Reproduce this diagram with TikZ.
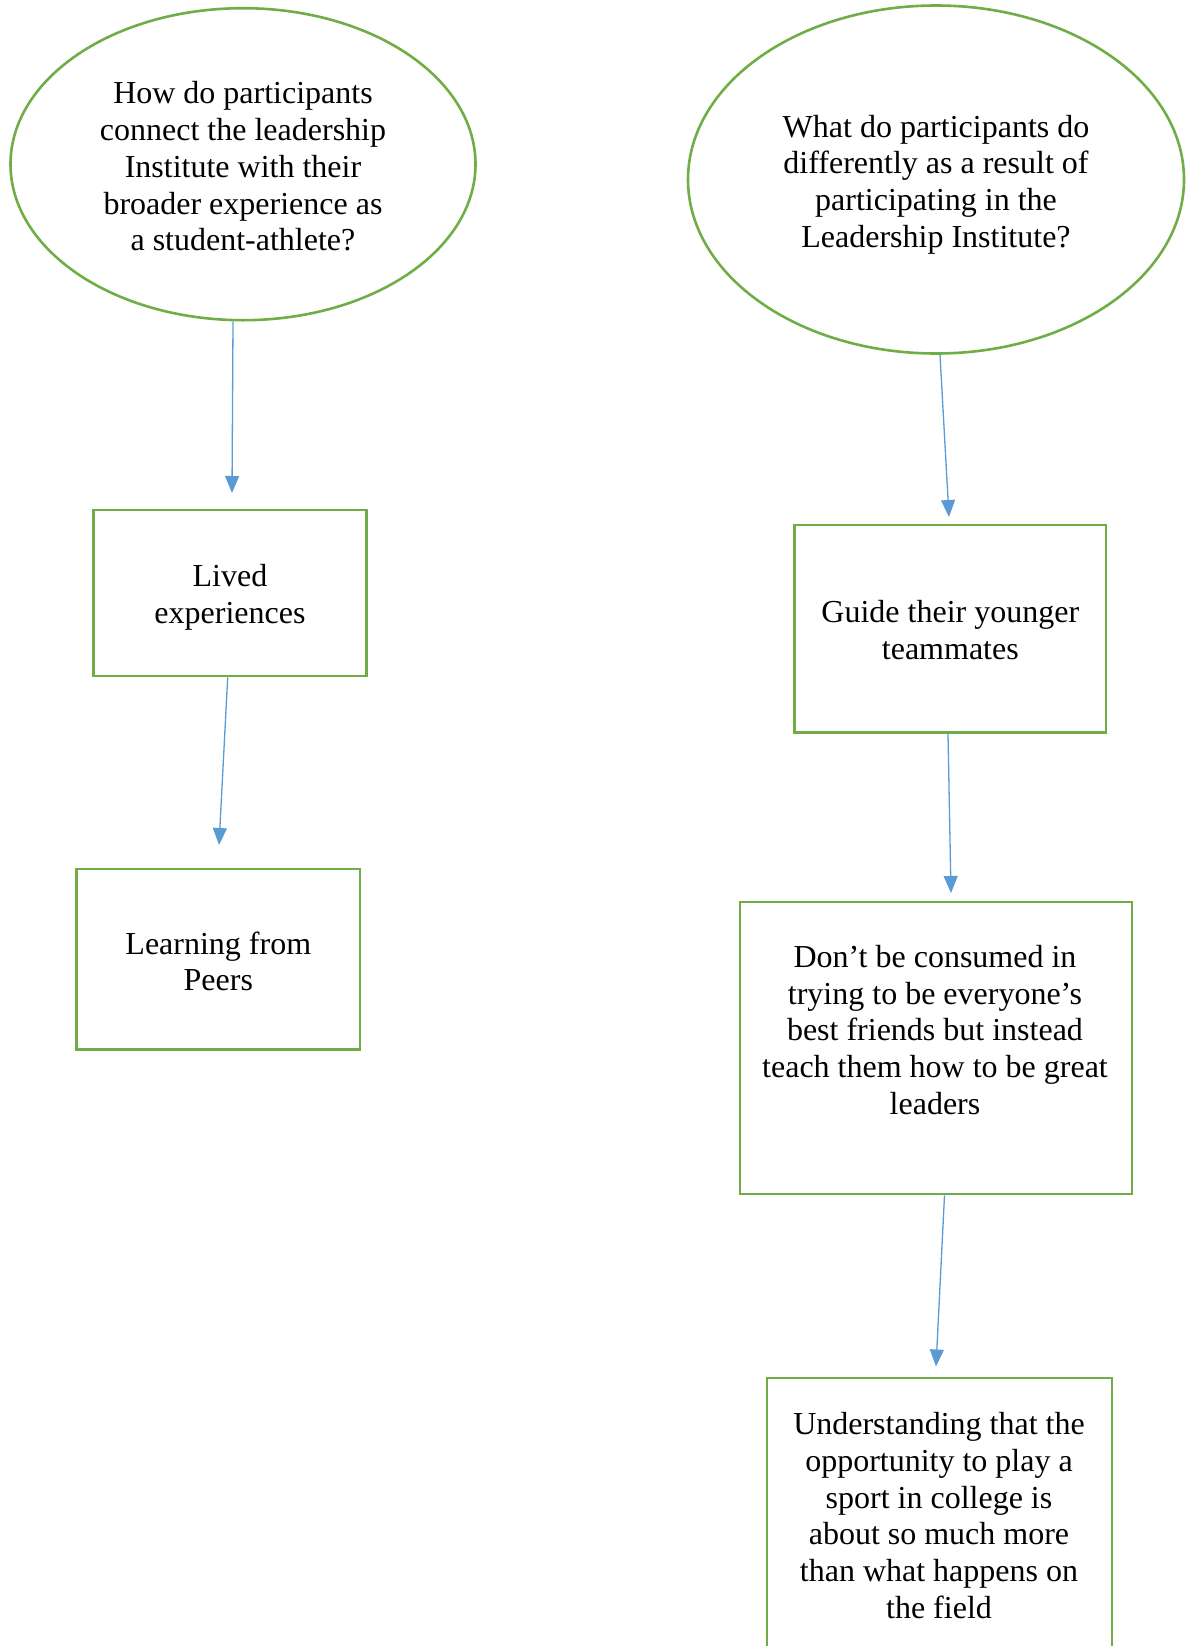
\documentclass[tikz,border=0pt]{standalone}
\usepackage{fontspec}
\setmainfont{Liberation Serif}
\usetikzlibrary{shapes.geometric,arrows.meta}
\definecolor{boxgreen}{HTML}{70AD47}
\definecolor{arrblue}{HTML}{5B9BD5}
\tikzset{
  txt/.style={font=\fontsize{32}{36.8}\selectfont, align=center, inner sep=0pt},
  oval/.style={draw=boxgreen, line width=2.6pt, ellipse, inner sep=0pt},
  box/.style={draw=boxgreen, line width=2.6pt, rectangle, inner sep=0pt},
  arr/.style={draw=arrblue, line width=1.3pt, -{Triangle[length=17pt,width=14pt]}}
}
\begin{document}
\begin{tikzpicture}[x=1pt,y=-1pt]
\useasboundingbox (0,0) rectangle (1187,1646);
\clip (0,0) rectangle (1187,1646);

\node[oval, minimum width=465pt, minimum height=312pt] (q1) at (243,164.2) {};
\node[txt] (q1text) at (243,166.5)
  {How do participants\\connect the leadership\\Institute with their\\broader experience as\\a student-athlete?};
\node[oval, minimum width=496pt, minimum height=348pt] (q2) at (936,179.5) {};
\node[txt] (q2text) at (936,184.7)
  {What do participants do\\differently as a result of\\participating in the\\Leadership Institute?};

\node[box, minimum width=273pt, minimum height=166pt] (lived) at (230,593) {};
\node[txt] (livedtext) at (230,597) {Lived\\experiences};
\node[box, minimum width=283.4pt, minimum height=180.5pt] (peers) at (218.3,959.3) {};
\node[txt] (peerstext) at (218.3,961.4) {Learning from\\Peers};
\node[box, minimum width=311.5pt, minimum height=207.8pt] (guide) at (950.3,628.7) {};
\node[txt] (guidetext) at (950.3,630) {Guide their younger\\teammates};
\node[box, minimum width=392pt, minimum height=292pt] (dont) at (936,1048) {};
\node[txt] (donttext) at (935,1030)
  {Don’t be consumed in\\trying to be everyone’s\\best friends but instead\\teach them how to be great\\leaders};
\node[box, minimum width=345pt, minimum height=322pt] (under) at (939.5,1539) {};
\node[txt] (undertext) at (939,1515.5)
  {Understanding that the\\opportunity to play a\\sport in college is\\about so much more\\than what happens on\\the field};

\coordinate (t1) at (232,493);
\coordinate (t2) at (219,845);
\coordinate (t3) at (949,517);
\coordinate (t4) at (951,893);
\coordinate (t5) at (936,1366.5);

\draw[arr] ([xshift=-10pt]q1.south) -- (t1);
\draw[arr] ([xshift=-2.3pt]lived.south) -- (t2);
\draw[arr] ([xshift=4pt]q2.south) -- (t3);
\draw[arr] ([xshift=-2.3pt]guide.south) -- (t4);
\draw[arr] ([xshift=8.5pt]dont.south) -- (t5);
\end{tikzpicture}
\end{document}
